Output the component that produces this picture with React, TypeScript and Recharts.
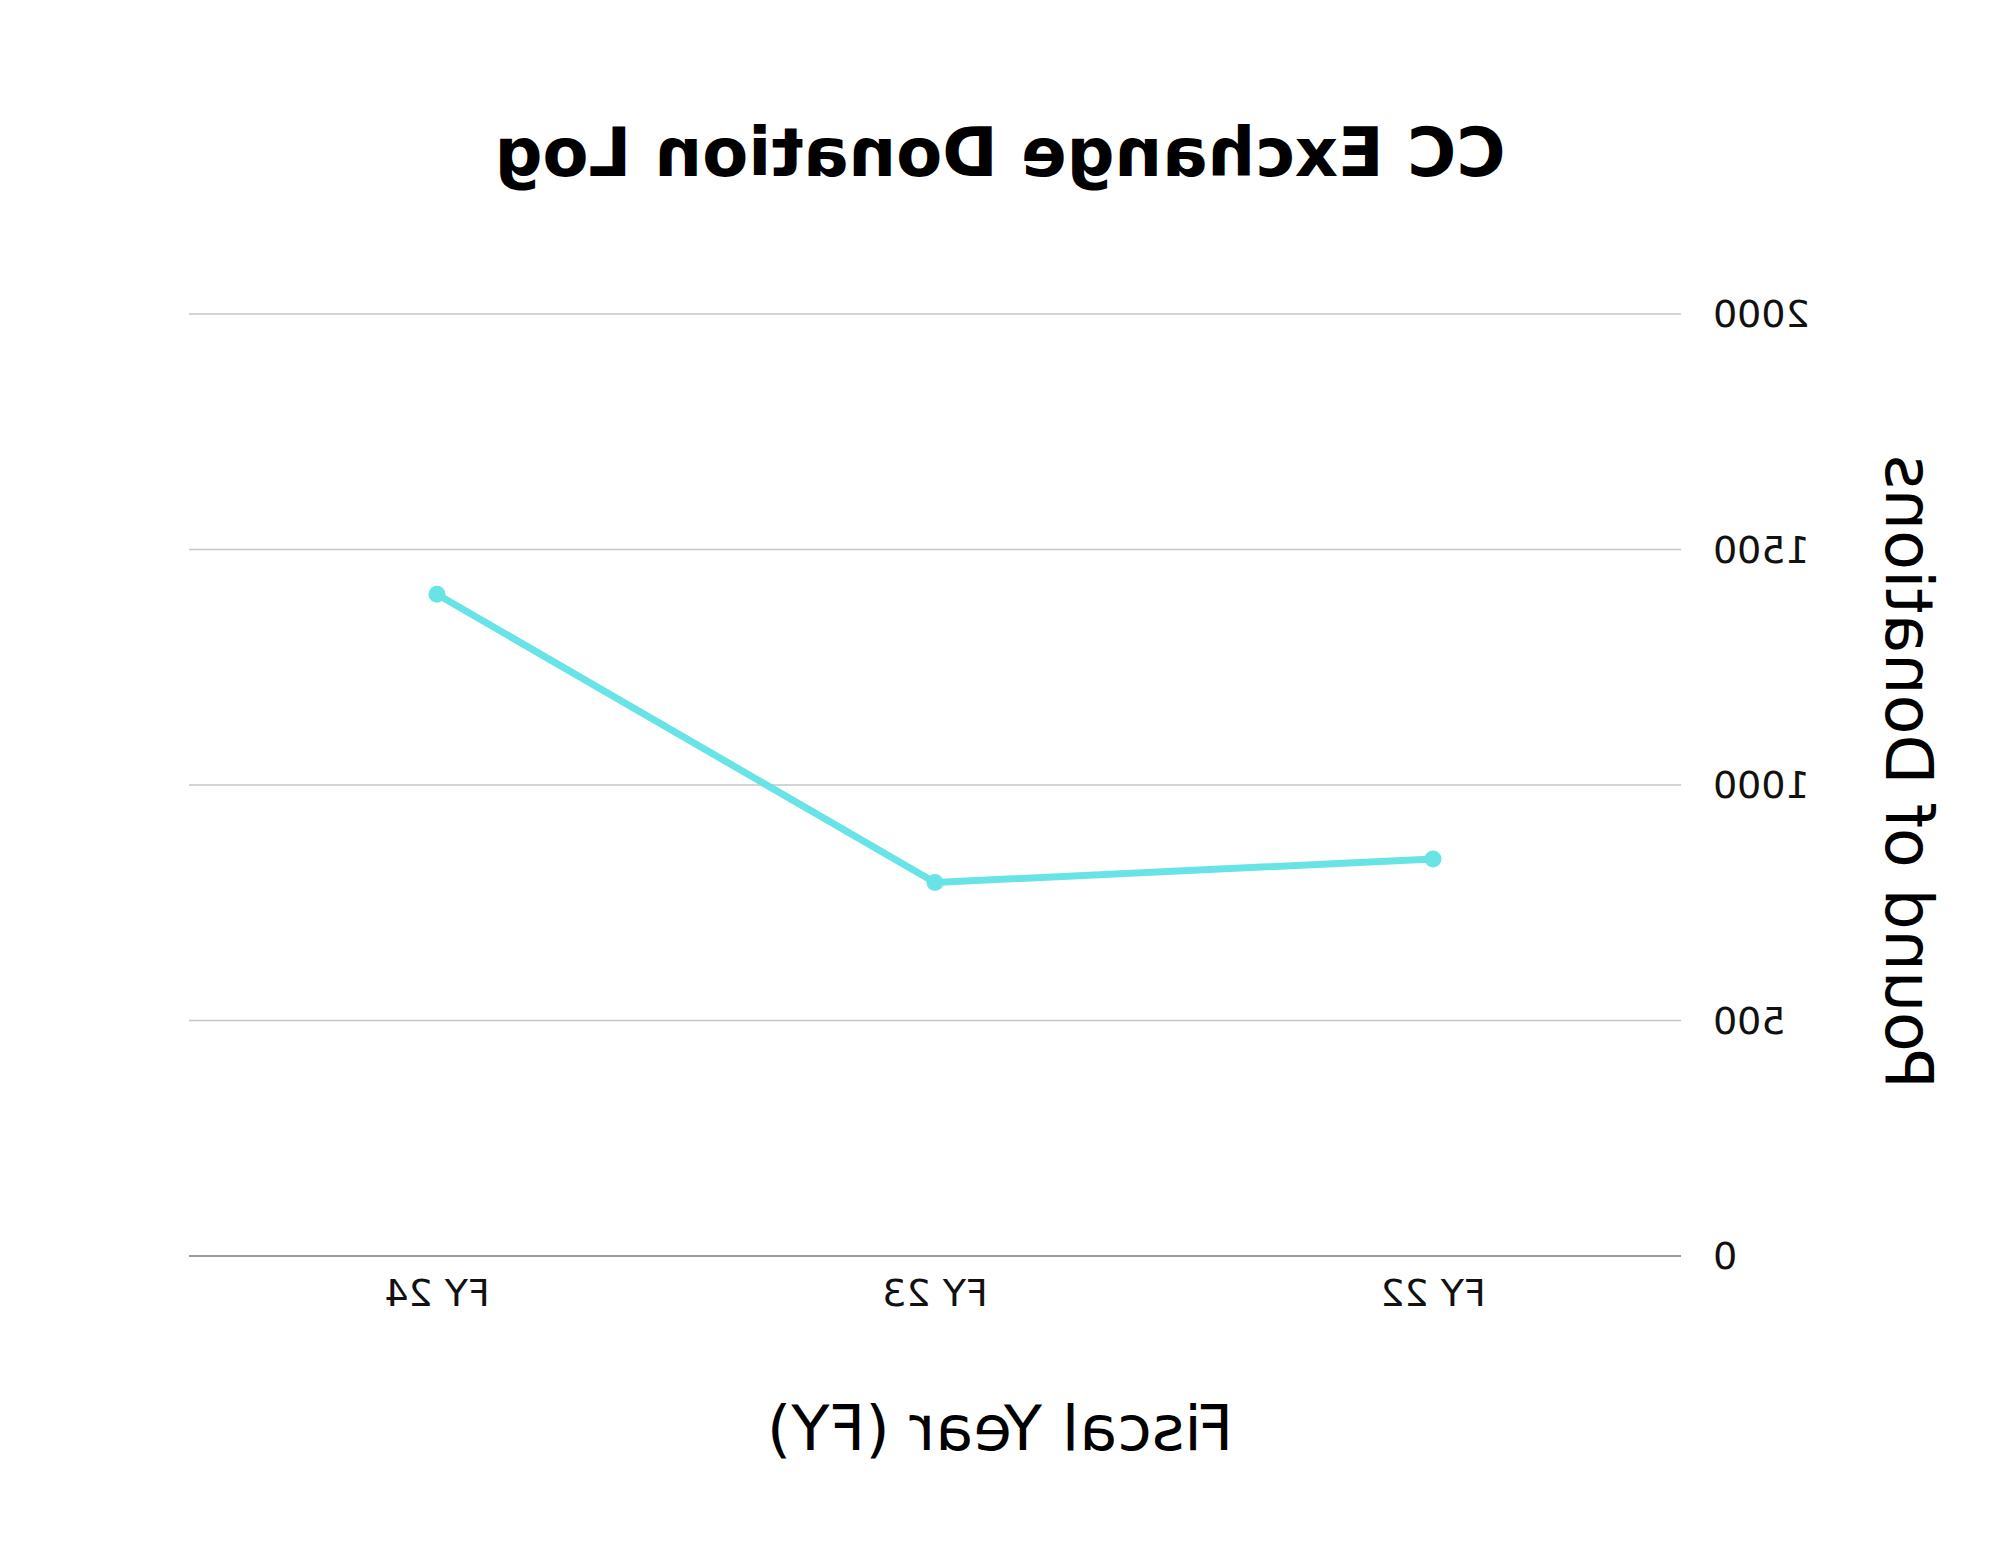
import { CartesianGrid, Line, LineChart, XAxis, YAxis } from "recharts";

const years = ["FY 22", "FY 23", "FY 24"];
const pounds = [843, 793, 1405];
const yTicks = [0, 500, 1000, 1500, 2000];

const W = 2000;
const H = 1545;
const LINE_COLOR = "#68e4e6";
const FONT = "'DejaVu Sans', sans-serif";

const TICK_STYLE = { fontSize: 38, fontFamily: FONT, fill: "#111" };

export default function App() {
  const data = years.map((year, i) => ({ year, pounds: pounds[i] }));

  return (
    // the reference is a horizontally mirrored render, so flip everything
    <div
      style={{
        position: "absolute",
        left: 0,
        top: 0,
        width: W,
        height: H,
        background: "#fff",
        transform: "scaleX(-1)",
      }}
    >
      <LineChart
        width={W}
        height={H}
        data={data}
        margin={{ top: 314, right: 189, bottom: 229, left: 189 }}
      >
        <CartesianGrid stroke="#c6c6c6" strokeWidth={1.5} vertical={false} />
        <XAxis
          dataKey="year"
          height={60}
          padding={{ left: 248, right: 248 }}
          tickLine={false}
          tickSize={0}
          tickMargin={23}
          axisLine={{ stroke: "#8a8a8a", strokeWidth: 1.5 }}
          tick={TICK_STYLE}
        />
        <YAxis
          width={130}
          domain={[0, 2000]}
          ticks={yTicks}
          interval={0}
          tickLine={false}
          tickSize={0}
          tickMargin={32}
          axisLine={false}
          tick={TICK_STYLE}
        />
        <Line
          type="linear"
          dataKey="pounds"
          stroke={LINE_COLOR}
          strokeWidth={7}
          dot={{ r: 8.5, fill: LINE_COLOR, stroke: "none" }}
          activeDot={false}
          isAnimationActive={false}
        />
      </LineChart>
      <svg
        width={W}
        height={H}
        style={{ position: "absolute", left: 0, top: 0, pointerEvents: "none" }}
      >
        <text
          x={1000}
          y={176}
          textAnchor="middle"
          fontFamily={FONT}
          fontWeight={700}
          fontSize={67}
          fill="#000"
        >
          CC Exchange Donation Log
        </text>
        <text
          x={1000}
          y={1450}
          textAnchor="middle"
          fontFamily={FONT}
          fontSize={62.5}
          fill="#000"
        >
          Fiscal Year (FY)
        </text>
        <text
          x={114}
          y={772}
          textAnchor="middle"
          transform="rotate(-90 114 772)"
          fontFamily={FONT}
          fontSize={65}
          fill="#000"
        >
          Pound of Donations
        </text>
      </svg>
    </div>
  );
}
